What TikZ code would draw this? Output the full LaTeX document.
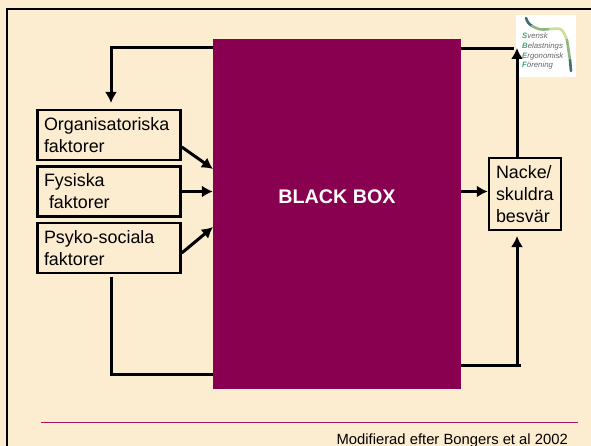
\documentclass[tikz,border=0pt]{standalone}
\usepackage{fontspec}
\setmainfont{Liberation Sans}
\usetikzlibrary{positioning}
\usetikzlibrary{arrows.meta,arrows}
\definecolor{paper}{HTML}{FDEDD0}
\definecolor{wine}{HTML}{8A0050}
\definecolor{rulecol}{HTML}{A8145F}
\definecolor{logogreen}{HTML}{3FA67A}
\definecolor{logodark}{HTML}{3F6F72}
\definecolor{logomid}{HTML}{8FB583}
\definecolor{logolight}{HTML}{CBDD98}
\tikzset{
	factor/.style={draw,line width=2.5pt,fill=paper,inner sep=0pt,minimum width=143pt,minimum height=50pt,text width=130pt,align=left,font=\fontsize{17.9}{22}\selectfont},
	link/.style={line width=3pt},
	linkto/.style={line width=3pt,-{Latex[length=11pt,width=12pt]}},
	logoline/.style={line width=2.6pt,line cap=round}
}
\begin{document}
\begin{tikzpicture}[x=1pt,y=-1pt]
	\useasboundingbox (0,0) rectangle (591,446);
	\fill[paper] (0,0) rectangle (591,446);
	\coordinate (fa) at (7,446);
	\coordinate (fb) at (7,9);
	\coordinate (fc) at (591,9);
	\draw[line width=2pt] (fa) -- (fb) -- (fc);

	% logo
	\node[fill=white,minimum width=60pt,minimum height=62pt,inner sep=0pt](logo) at (546,46) {};
	\draw[logoline,color=logodark] (526,18) .. controls (528,23) .. (532,26);
	\draw[logoline,color=logomid] (532,26) .. controls (540,30) .. (550,29);
	\draw[logoline,color=logolight] (550,29) .. controls (562,28) .. (567,40);
	\draw[logoline,color=logomid] (567,40) .. controls (569,50) .. (570,60);
	\draw[logoline,color=logodark] (570,60) -- (571,71);
	\node[anchor=north west,inner sep=0pt,text=black!60,align=left,font=\itshape\fontsize{7.8}{9.6}\selectfont](logotext) at (522,33) {\textcolor{logogreen}{\textbf{S}}vensk\\\textcolor{logogreen}{\textbf{B}}elastnings\\\textcolor{logogreen}{\textbf{E}}rgonomisk\\\textcolor{logogreen}{\textbf{F}}örening};

	\node[fill=wine,minimum width=248pt,minimum height=350pt,inner sep=0pt](black) at (337,214) {};
	\node[text=white,inner sep=0pt,font=\bfseries\fontsize{19.7}{24}\selectfont](blacklabel) at (337,197) {BLACK BOX};
	\node[factor](org) at (109,135) {Organisatoriska\\faktorer};
	\node[factor,below=4pt of org](fys) {Fysiska\\\hspace*{5pt}faktorer};
	\node[factor,below=4pt of fys](psy) {Psyko-sociala\\faktorer};
	\node[draw,line width=2.5pt,minimum width=72pt,minimum height=72pt,text width=58pt,inner sep=0pt,align=left,font=\fontsize{17.9}{22}\selectfont](nacke) at (525,194) {Nacke/\\skuldra\\besvär};

	% corners of the feedback lines
	\coordinate (blacktop) at (213,48);
	\coordinate (topleft) at (111,48);
	\coordinate (orgtop) at (111,103);
	\coordinate (psybot) at (111,277);
	\coordinate (botleft) at (111,374);
	\coordinate (blackbot) at (213,374);
	\coordinate (blackout) at (461,365);
	\coordinate (botright) at (521,365);
	\coordinate (upfoot) at (517,365);
	\coordinate (uptip) at (517,236);
	\coordinate (upstart) at (517,157);
	\coordinate (toptip) at (517,48);
	\coordinate (blackright) at (461,49);

	\draw[link] (blacktop) -- (topleft) -- (111,50);
	\draw[linkto] (topleft) -- (orgtop);
	\draw[linkto] (org.east |- 0,147) -- (213,169);
	\draw[linkto] (fys.east) -- (black.west |- fys.east);
	\draw[linkto] (psy.east |- 0,253) -- (213,227);
	\draw[link] (psybot) -- (botleft) -- (blackbot);
	\draw[link] (blackout) -- (botright);
	\draw[linkto] (upfoot) -- (uptip);
	\draw[linkto] (black.east |- fys.east) -- (nacke.west |- fys.east);
	\draw[linkto] (upstart) -- (toptip);
	\draw[link] (blackright) -- (514,49);

	\coordinate (rulea) at (41,422);
	\coordinate (ruleb) at (578,422);
	\draw[rulecol,line width=1pt] (rulea) -- (ruleb);
	\node[anchor=base east,inner sep=0pt,font=\fontsize{14.8}{18}\selectfont](source) at (568,444) {Modifierad efter Bongers et al 2002};
\end{tikzpicture}
\end{document}
